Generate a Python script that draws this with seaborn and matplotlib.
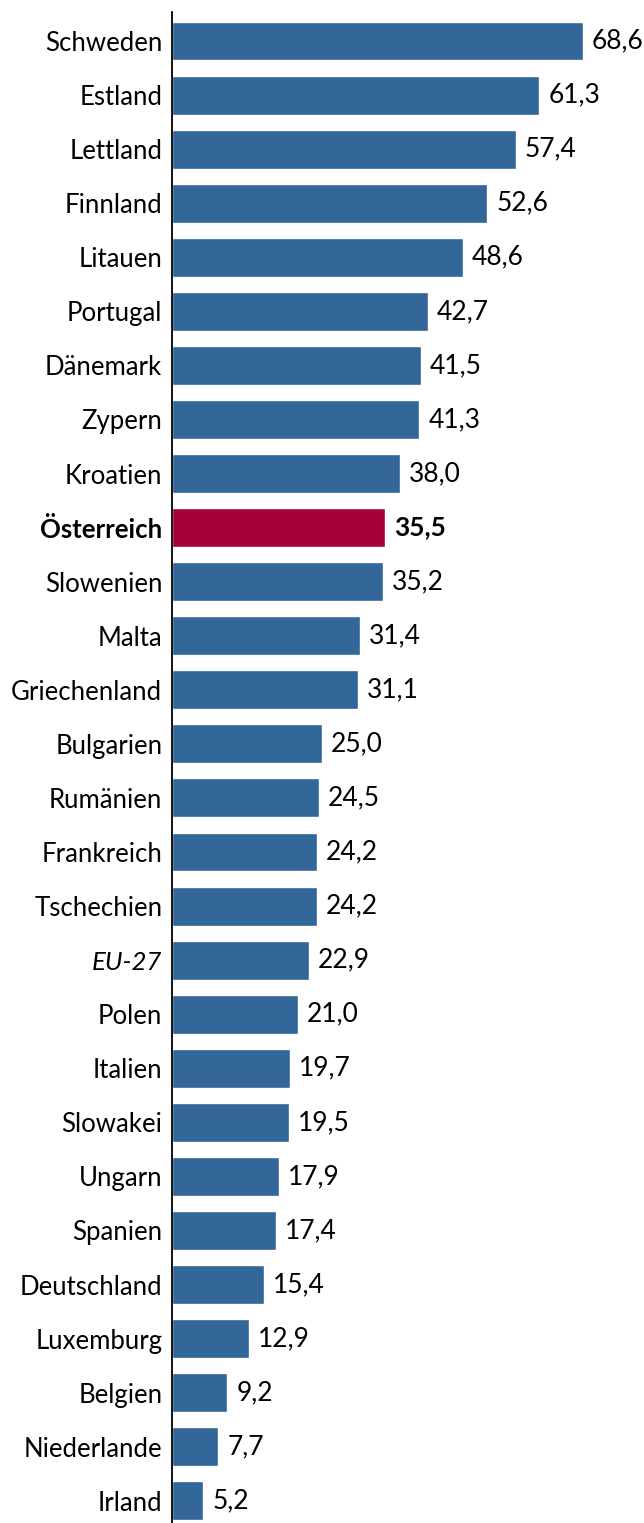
import matplotlib
matplotlib.use("Agg")
import matplotlib.pyplot as plt
import seaborn as sns
import pandas as pd

countries = ["Schweden", "Estland", "Lettland", "Finnland", "Litauen", "Portugal",
             "Dänemark", "Zypern", "Kroatien", "Österreich", "Slowenien", "Malta",
             "Griechenland", "Bulgarien", "Rumänien", "Frankreich", "Tschechien",
             "EU-27", "Polen", "Italien", "Slowakei", "Ungarn", "Spanien",
             "Deutschland", "Luxemburg", "Belgien", "Niederlande", "Irland"]
values = [68.6, 61.3, 57.4, 52.6, 48.6, 42.7, 41.5, 41.3, 38.0, 35.5, 35.2, 31.4,
          31.1, 25.0, 24.5, 24.2, 24.2, 22.9, 21.0, 19.7, 19.5, 17.9, 17.4, 15.4,
          12.9, 9.2, 7.7, 5.2]
highlight = "Österreich"
average = "EU-27"

BLUE = "#336699"
RED = "#A8003A"

df = pd.DataFrame({"land": countries, "wert": values})
df["gruppe"] = ["hl" if c == highlight else "std" for c in countries]

sns.set_theme(style="white")
plt.rcParams["font.family"] = ["Lato", "DejaVu Sans"]

fig = plt.figure(figsize=(6.44, 15.23), dpi=100)
ax = fig.add_axes([172 / 644, 0.0, 1 - 172 / 644, (1523 - 12) / 1523])

sns.barplot(data=df, x="wert", y="land", hue="gruppe",
            palette={"std": BLUE, "hl": RED}, dodge=False, legend=False,
            width=0.72, saturation=1, ax=ax, orient="h")

ax.set_xlim(0, 78.8)
ax.set_ylim(27.41, -0.536)
ax.set_xlabel("")
ax.set_ylabel("")
ax.set_xticks([])
for s in ["top", "right", "bottom"]:
    ax.spines[s].set_visible(False)
ax.spines["left"].set_color("black")
ax.spines["left"].set_linewidth(1.3)

ax.tick_params(axis="y", length=0, pad=7, labelsize=18.5)
for lbl in ax.get_yticklabels():
    lbl.set_color("black")
    t = lbl.get_text()
    if t == highlight:
        lbl.set_fontweight("bold")
    elif t == average:
        lbl.set_fontstyle("italic")

for i, (c, v) in enumerate(zip(countries, values)):
    txt = f"{v:.1f}".replace(".", ",")
    ax.annotate(txt, xy=(v, i), xytext=(6.5, 0), textcoords="offset points",
                va="center", ha="left", fontsize=19, color="black",
                fontweight="bold" if c == highlight else "normal")

fig.savefig("out.png", dpi=100)
